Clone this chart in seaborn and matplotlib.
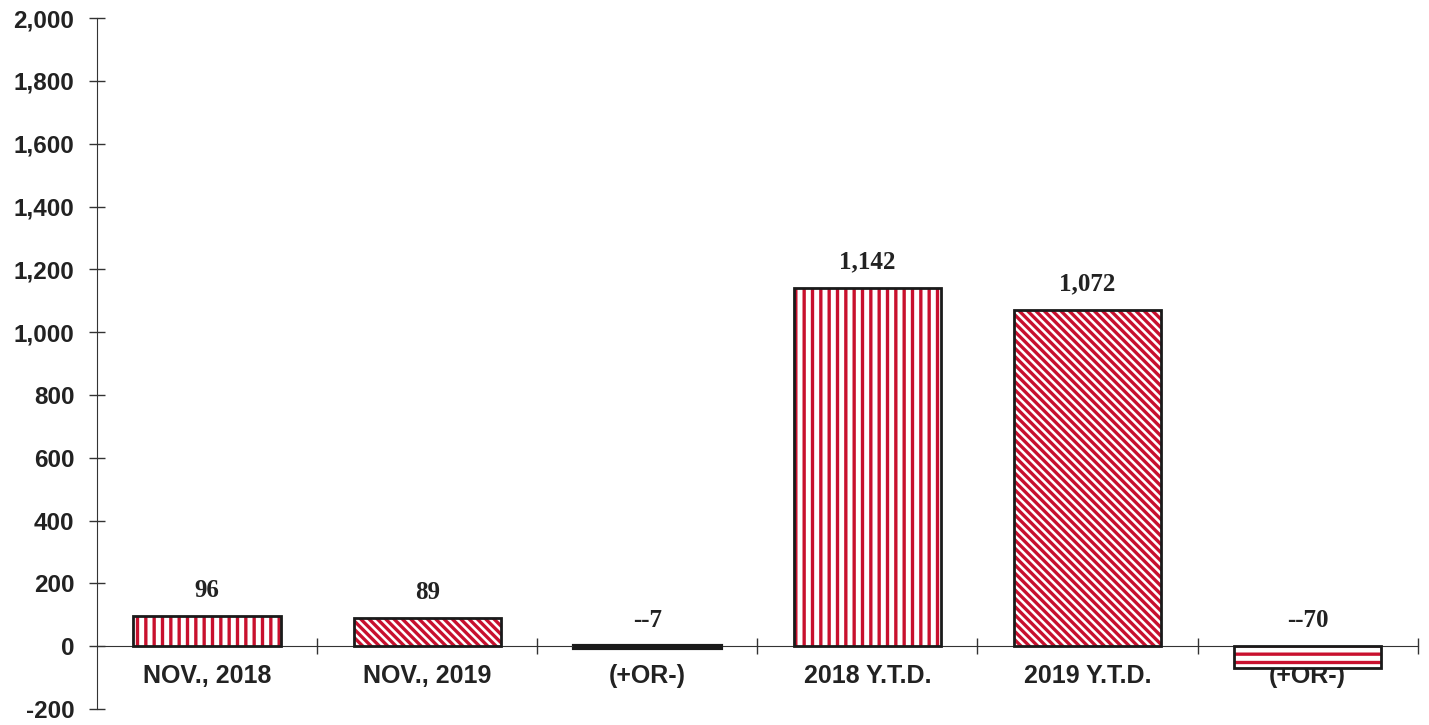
import numpy as np
import seaborn as sns
import matplotlib.pyplot as plt
from matplotlib.patches import Rectangle

# dados do gráfico
labels = ["NOV., 2018", "NOV., 2019", "(+OR-)", "2018 Y.T.D.", "2019 Y.T.D.", "(+OR-)"]
values = [96, 89, -7, 1142, 1072, -70]
value_text = ["96", "89", "--7", "1,142", "1,072", "--70"]
hatches = ["||", "\\\\\\\\", "", "||", "\\\\\\\\", "--"]
yticks = [-200, 0, 200, 400, 600, 800, 1000, 1200, 1400, 1600, 1800, 2000]

red = "#c8102e"
sns.set_style("white")
plt.rcParams["font.family"] = ["Liberation Sans", "DejaVu Sans"]
plt.rcParams["font.weight"] = "bold"
plt.rcParams["xtick.labelsize"] = 18
plt.rcParams["ytick.labelsize"] = 17.5
plt.rcParams["xtick.color"] = "#333333"
plt.rcParams["ytick.color"] = "#333333"
plt.rcParams["xtick.labelcolor"] = "#222222"
plt.rcParams["ytick.labelcolor"] = "#222222"
plt.rcParams["hatch.linewidth"] = 2.4

fig = plt.figure(figsize=(14.29, 7.25), dpi=100)
ax = fig.add_axes([0.068, 0.022, 0.924, 0.953])

pos = list(range(len(values)))
sns.barplot(x=pos, y=values, order=pos, width=0.67, color="white", ax=ax)

for i, p in enumerate(ax.patches):
    if values[i] == -7:
        p.set_facecolor("#1a1a1a")
        p.set_edgecolor("#1a1a1a")
        p.set_linewidth(3)
    else:
        p.set_facecolor("white")
        p.set_edgecolor(red)
        p.set_hatch(hatches[i])
        p.set_linewidth(0)
    ax.add_patch(Rectangle((p.get_x(), p.get_y()), p.get_width(), p.get_height(),
                           fill=False, ec="#1a1a1a", lw=2, zorder=3))
    h = max(values[i], 0)
    ax.annotate(value_text[i], (p.get_x() + p.get_width() / 2, h),
                xytext=(0, 10), textcoords="offset points",
                ha="center", va="bottom", fontsize=18, fontweight="bold",
                family="Liberation Serif", color="#222222")

ax.set_xlim(-0.5, 5.5)
ax.set_ylim(-200, 2000)
ax.set_xticks(pos)
ax.set_xticks([k + 0.5 for k in pos], minor=True)
ax.set_yticks(yticks)
ax.tick_params(axis="x", which="major", bottom=True, length=0, pad=13)
ax.tick_params(axis="x", which="minor", bottom=True, direction="inout", length=11, width=1)
ax.tick_params(axis="y", left=True, direction="inout", length=11, width=1, pad=11)
ax.set_yticklabels([f"{v:,}" for v in yticks])
ax.set_xticklabels(labels)

for s in ["top", "right"]:
    ax.spines[s].set_visible(False)
ax.spines["bottom"].set_position(("data", 0))
ax.spines["left"].set_color("#333333")
ax.spines["bottom"].set_color("#333333")
ax.set_xlabel("")
ax.set_ylabel("")

fig.savefig("out.png", dpi=100)
